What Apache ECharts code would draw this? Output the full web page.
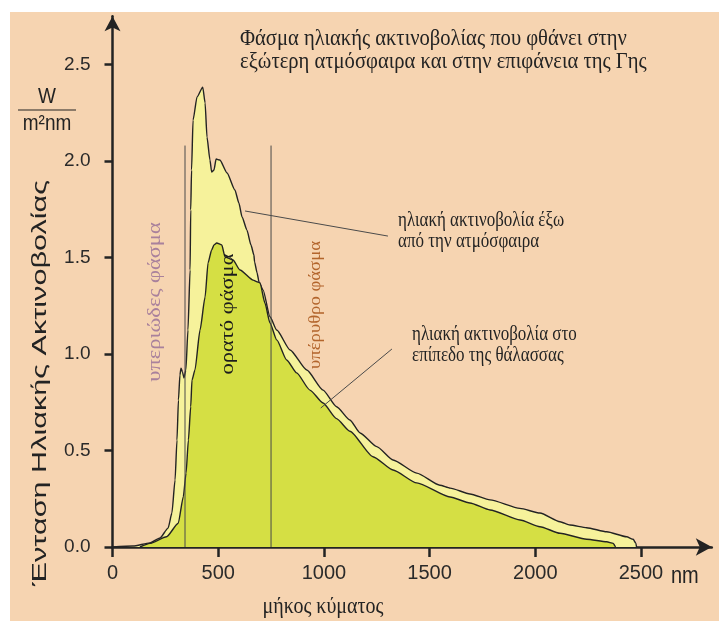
<!DOCTYPE html>
<html>
<head>
<meta charset="utf-8">
<script src="https://cdn.jsdelivr.net/npm/echarts@6/dist/echarts.min.js"></script>
<style>
  html, body { margin: 0; padding: 0; background: #ffffff; }
  #paper { position: absolute; left: 10px; top: 12px; right: 0; bottom: 0; background: #f6d4b1; }
  #chart { position: absolute; left: 0; top: 0; width: 719px; height: 621px; }
</style>
</head>
<body>
<div id="paper"></div>
<div id="chart"></div>
<script>
// Spectral irradiance, [wavelength in nm, W/(m^2 nm)]
const outsideAtmosphere = [
  [0, 0], [97, 0.005], [177, 0.021], [225, 0.047], [263, 0.098], [281, 0.176],
  [296, 0.347], [305, 0.554], [312, 0.762], [319, 0.891], [324, 0.927], [331, 0.907],
  [338, 0.876], [347, 0.917], [357, 1.124], [367, 1.435], [370, 1.746], [374, 1.953],
  [381, 2.212], [400, 2.332], [427, 2.383], [438, 2.301], [447, 2.124], [461, 2.005],
  [469, 1.943], [480, 1.953], [490, 2.010], [508, 2.005], [542, 1.938], [579, 1.850],
  [598, 1.782], [613, 1.710], [636, 1.642], [655, 1.565], [669, 1.513], [672, 1.477],
  [684, 1.420], [693, 1.373], [712, 1.332], [745, 1.193], [777, 1.124], [840, 1.021],
  [919, 0.917], [996, 0.813], [1060, 0.727], [1123, 0.658], [1171, 0.591], [1250, 0.520],
  [1327, 0.451], [1439, 0.383], [1549, 0.320], [1597, 0.305], [1691, 0.275], [1786, 0.244],
  [1927, 0.200], [2022, 0.176], [2117, 0.131], [2164, 0.114], [2243, 0.100], [2338, 0.079],
  [2432, 0.053], [2463, 0.040], [2476, 0.019], [2479, 0]
];
const seaLevel = [
  [130, 0], [177, 0.019], [256, 0.053], [311, 0.123], [335, 0.261], [348, 0.383],
  [359, 0.554], [370, 0.727], [376, 0.865], [390, 0.917], [414, 1.124], [438, 1.295],
  [452, 1.472], [469, 1.539], [480, 1.565], [493, 1.575], [517, 1.565], [532, 1.504],
  [570, 1.487], [603, 1.435], [665, 1.383], [688, 1.373], [698, 1.368], [721, 1.264],
  [745, 1.161], [777, 1.073], [824, 0.969], [871, 0.902], [934, 0.813], [996, 0.746],
  [1060, 0.665], [1123, 0.600], [1232, 0.468], [1327, 0.399], [1439, 0.332], [1597, 0.259],
  [1691, 0.228], [1786, 0.192], [1928, 0.140], [2022, 0.105], [2117, 0.071], [2243, 0.040],
  [2338, 0.027], [2369, 0.019], [2377, 0.005], [2379, 0]
];

// Axis ticks
const xTicks = [0, 500, 1000, 1500, 2000, 2500];
const yTicks = [0, 0.5, 1.0, 1.5, 2.0, 2.5];

// Band boundaries (UV | visible | IR), in nm, and how high the markers reach
const bandEdges = [343, 750];
const bandEdgeTop = 2.08;

// Leader lines from the curves to their captions
const leaderOutside = [[627, 1.741], [1303, 1.611]];
const leaderSea = [[985, 0.72], [1322, 1.026]];

// Texts
const titleLines = ['Φάσμα ηλιακής ακτινοβολίας που φθάνει στην', 'εξώτερη ατμόσφαιρα και στην επιφάνεια της Γης'];
const outsideCaption = ['ηλιακή ακτινοβολία έξω', 'από την ατμόσφαιρα'];
const seaCaption = ['ηλιακή ακτινοβολία στο', 'επίπεδο της θάλασσας'];
const bandNames = ['υπεριώδες φάσμα', 'ορατό φάσμα', 'υπέρυθρο φάσμα'];
const xName = 'μήκος κύματος';
const xUnit = 'nm';
const yName = 'Ένταση Ηλιακής Ακτινοβολίας';
const yUnitTop = 'W';
const yUnitBottom = 'm²nm';

const SERIF = '"Liberation Serif", "DejaVu Serif", serif';
const SANS = '"Liberation Sans", Arial, sans-serif';
const INK = '#232323';

function flatText(str, x, y, size, family, color, sy, align) {
  return {
    type: 'text', x: x, y: y, scaleY: sy, z: 10,
    style: {
      text: str, fill: color, font: size + 'px ' + family,
      align: align || 'left', verticalAlign: 'middle',
      textAlign: align || 'left', textVerticalAlign: 'middle'
    }
  };
}
function upText(str, x, y, size, family, color, sx) {
  return {
    type: 'text', x: x, y: y, rotation: Math.PI / 2, scaleX: sx, z: 10,
    style: {
      text: str, fill: color, font: size + 'px ' + family,
      align: 'center', verticalAlign: 'middle',
      textAlign: 'center', textVerticalAlign: 'middle'
    }
  };
}

const graphics = [
  flatText(titleLines[0], 240, 39, 20.6, SERIF, INK, 1.12),
  flatText(titleLines[1], 240, 62, 20.6, SERIF, INK, 1.12),
  flatText(outsideCaption[0], 398, 220, 17, SERIF, INK, 1.25),
  flatText(outsideCaption[1], 398, 241, 17, SERIF, INK, 1.25),
  flatText(seaCaption[0], 412, 334, 17, SERIF, INK, 1.25),
  flatText(seaCaption[1], 412, 355, 17, SERIF, INK, 1.25),
  flatText(xName, 323, 607, 20, SERIF, INK, 1.15, 'center'),
  flatText(xUnit, 671, 577, 20, SANS, INK, 1.15),
  flatText(yUnitTop, 47, 97, 19, SANS, INK, 1.15, 'center'),
  flatText(yUnitBottom, 47, 124, 19, SANS, INK, 1.15, 'center'),
  { type: 'line', z: 10, shape: { x1: 18, y1: 110, x2: 76, y2: 110 }, style: { stroke: INK, lineWidth: 1.2 } },
  upText(yName, 40, 383, 20, SANS, INK, 1.53),
  upText(bandNames[0], 155, 302, 18, SERIF, '#a9819c', 1.25),
  upText(bandNames[1], 228, 314, 18, SERIF, '#1c1c1c', 1.25),
  upText(bandNames[2], 316, 305, 17, SERIF, '#b3652c', 1.1)
];

function guide(data) {
  return {
    type: 'line', data: data, symbol: 'none', silent: true, z: 5,
    lineStyle: { color: '#4a4a4a', width: 1 }
  };
}

const chart = echarts.init(document.getElementById('chart'));
chart.setOption({
  animation: false,
  backgroundColor: 'transparent',
  grid: { left: 112.5, right: 7.2, top: 16.25, bottom: 74, containLabel: false, outerBoundsMode: 'none' },
  xAxis: {
    type: 'value', min: 0, max: 2835, interval: 500,
    axisLine: { show: true, onZero: false, symbol: ['none', 'arrow'], symbolSize: [13, 16],
      lineStyle: { color: INK, width: 2.5 } },
    axisTick: { show: true, length: 10, customValues: xTicks, lineStyle: { color: INK, width: 2.5 } },
    axisLabel: { customValues: xTicks, margin: 16, fontSize: 20, fontFamily: SANS, color: '#2a2a2a',
      formatter: v => String(v) },
    splitLine: { show: false }
  },
  yAxis: {
    type: 'value', min: 0, max: 2.75, interval: 0.5,
    axisLine: { show: true, onZero: false, symbol: ['none', 'arrow'], symbolSize: [12, 15],
      lineStyle: { color: INK, width: 2.5 } },
    axisTick: { show: true, length: 8, customValues: yTicks, lineStyle: { color: INK, width: 2.5 } },
    axisLabel: { customValues: yTicks, margin: 22, fontSize: 19, fontFamily: SANS, color: '#2a2a2a',
      formatter: v => v.toFixed(1) },
    splitLine: { show: false }
  },
  graphic: graphics,
  series: [
    {
      type: 'line', name: 'έξω από την ατμόσφαιρα', data: outsideAtmosphere,
      symbol: 'none', smooth: 0.2, smoothMonotone: 'x', z: 2,
      lineStyle: { color: INK, width: 1.4 },
      areaStyle: { color: '#f6f29b', opacity: 1 }
    },
    {
      type: 'line', name: 'επίπεδο της θάλασσας', data: seaLevel,
      symbol: 'none', smooth: 0.2, smoothMonotone: 'x', z: 3,
      lineStyle: { color: INK, width: 1.4 },
      areaStyle: { color: '#d5df44', opacity: 1 }
    },
    guide([[bandEdges[0], 0], [bandEdges[0], bandEdgeTop]]),
    guide([[bandEdges[1], 0], [bandEdges[1], bandEdgeTop]]),
    guide(leaderOutside),
    guide(leaderSea)
  ]
});
</script>
</body>
</html>
